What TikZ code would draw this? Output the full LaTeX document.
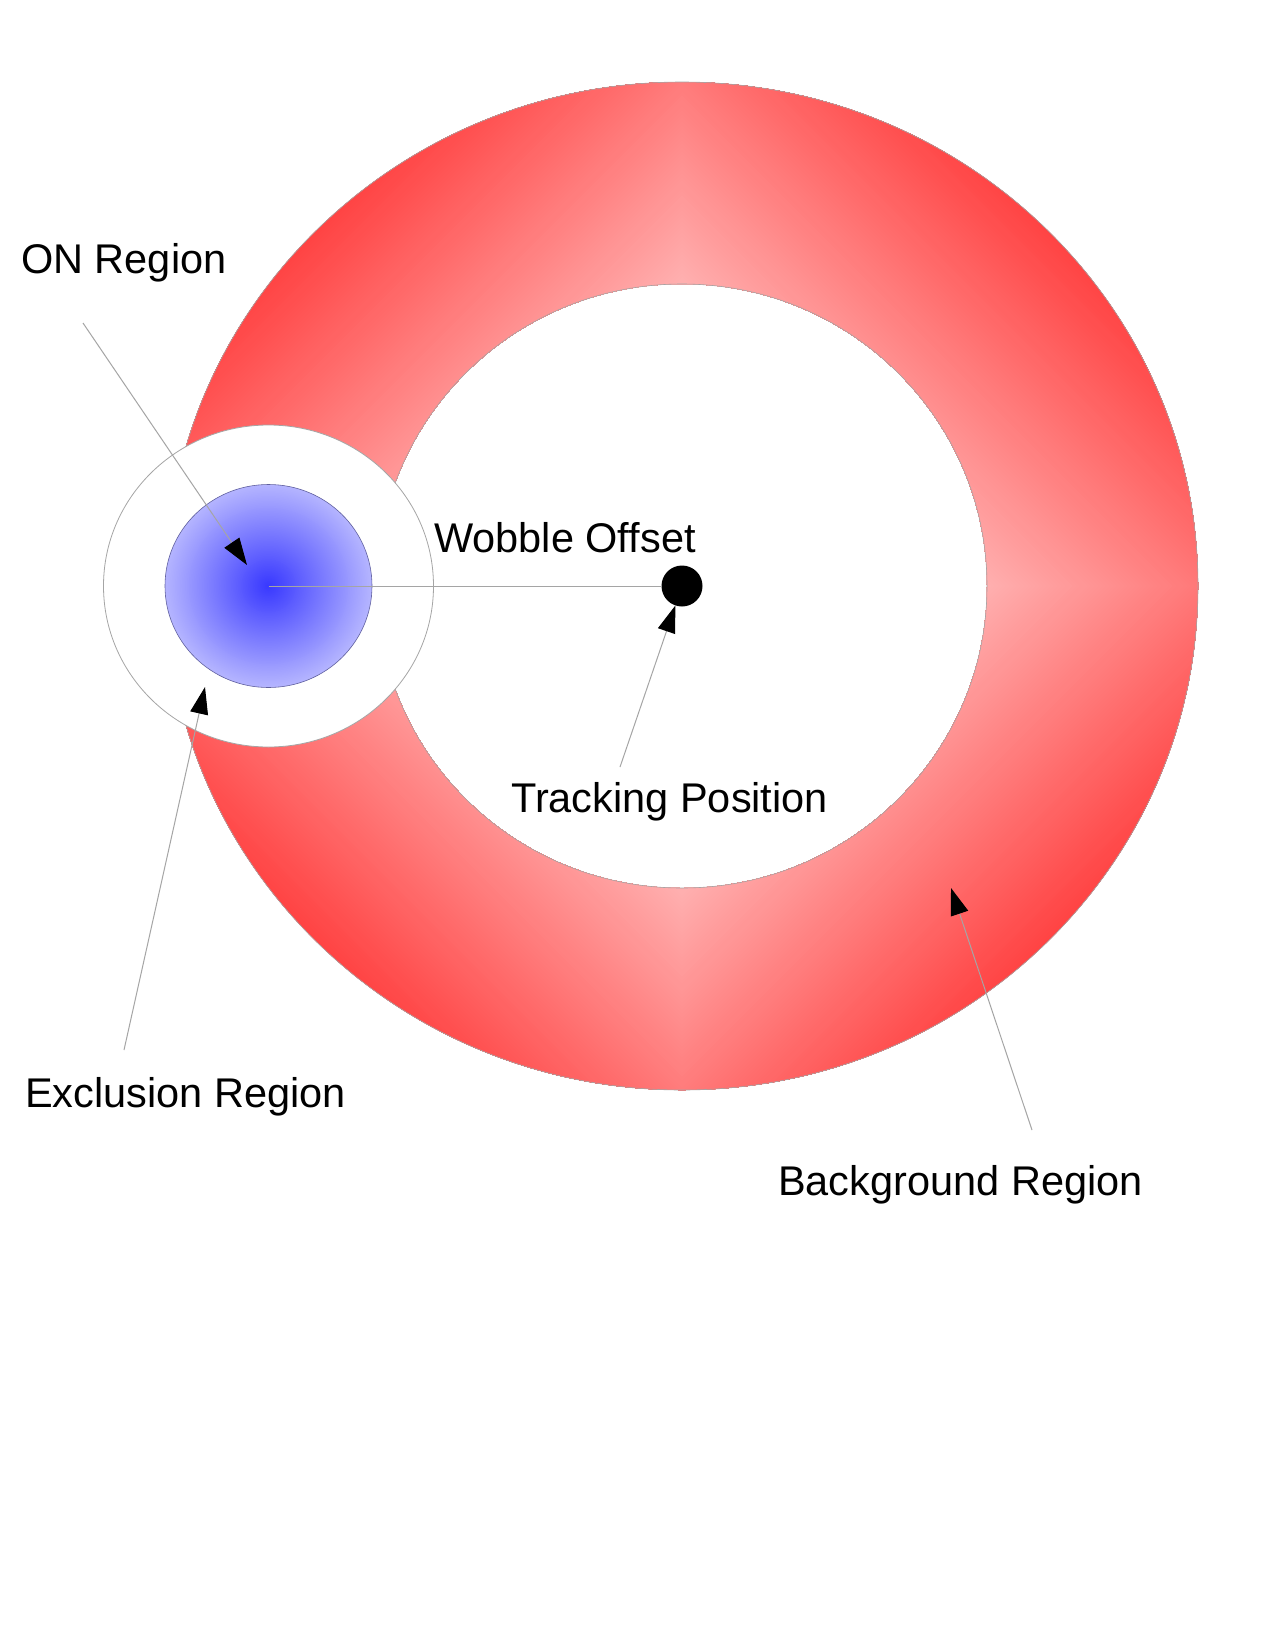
\documentclass[tikz,border=0pt]{standalone}
\usepackage{fontspec}
\setmainfont{Liberation Sans}
\usetikzlibrary{arrows.meta}
\definecolor{ringred}{RGB}{255,64,64}
\definecolor{bluecenter}{RGB}{58,58,255}
\definecolor{blueedge}{RGB}{180,180,255}
\definecolor{thingray}{RGB}{165,165,165}
\begin{document}
\begin{tikzpicture}[x=1pt,y=-1pt,
  lbl/.style={anchor=base west, inner sep=0pt, font=\fontsize{41.5}{50}\selectfont},
  conn/.style={draw=thingray, line width=1pt, -{Triangle[length=27pt,width=18pt,color=black]}},
  outline/.style={draw=thingray, line width=0.8pt}]
\useasboundingbox[fill=white] (0,0) rectangle (1275,1650);
\coordinate (C) at (682,586);
\coordinate (E) at (268.5,586);
% background ring with rotated-square gradient
\begin{scope}[even odd rule]
  \clip (682,586) ellipse [x radius=516, y radius=504]
        (682,586) ellipse [x radius=305, y radius=302];
  \foreach \i in {0,...,120} {
    \pgfmathsetmacro{\c}{735-3.7*\i}
    \pgfmathsetmacro{\p}{\c/7.35}
    \fill[ringred!\p!white] (682+\c,586) -- (682,586+\c) -- (682-\c,586) -- (682,586-\c) -- cycle;
  }
\end{scope}
\draw[outline, line width=0.6pt] (C) ellipse [x radius=516, y radius=504];
\draw[outline, line width=0.6pt] (C) ellipse [x radius=305, y radius=302];
% exclusion region
\draw[outline, fill=white] (E) ellipse [x radius=165, y radius=161];
% ON region, radial gradient
\foreach \i in {0,...,60} {
  \pgfmathsetmacro{\s}{1-\i/61}
  \pgfmathsetmacro{\p}{100*\i/60}
  \fill[bluecenter!\p!blueedge] (E) ellipse [x radius=103.5*\s, y radius=101.5*\s];
}
\draw[draw=blue!25!gray, line width=0.6pt] (E) ellipse [x radius=103.5, y radius=101.5];
% tracking position
\node[circle, fill=black, minimum size=41pt, inner sep=0pt] (dot) at (C) {};
\draw[thingray, line width=1pt] (E) -- (dot);
% labels
\node[lbl] (on)  at (21,273)  {ON Region};
\node[lbl] (wob) at (434,552) {Wobble Offset};
\node[lbl] (trk) at (511,812) {Tracking Position};
\node[lbl] (exc) at (25,1107) {Exclusion Region};
\node[lbl] (bkg) at (778,1195) {Background Region};
% connector ends
\coordinate (onS) at (83,323);
\coordinate (onT) at (247,565);
\coordinate (exS) at (124,1050);
\coordinate (exT) at (205,687);
\coordinate (trS) at (620,767);
\coordinate (bgS) at (1032,1130);
\coordinate (bgT) at (951,888);
\draw[conn] (onS) -- (onT);
\draw[conn] (exS) -- (exT);
\draw[conn] (trS) -- (dot);
\draw[conn] (bgS) -- (bgT);
\end{tikzpicture}
\end{document}
